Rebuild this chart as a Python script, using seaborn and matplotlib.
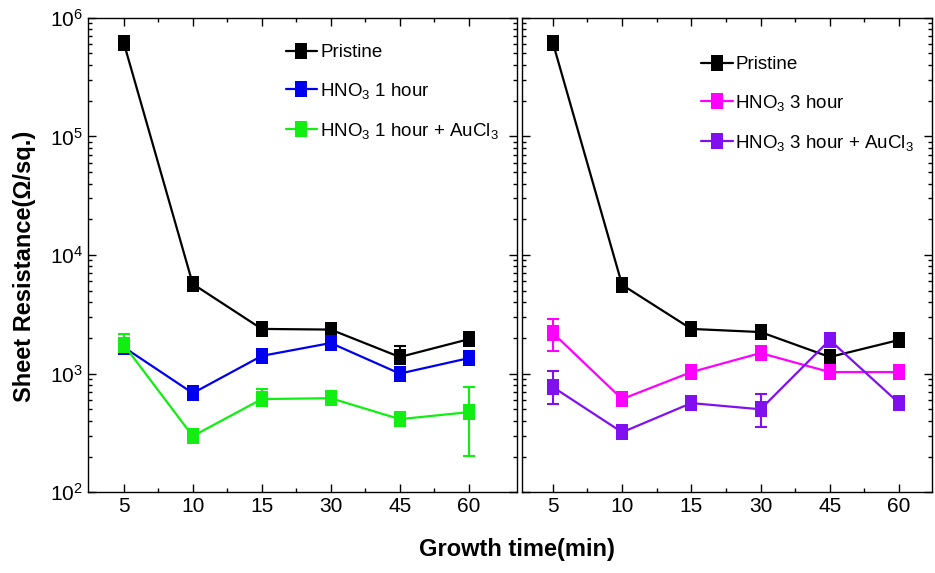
import numpy as np
import pandas as pd
import matplotlib
matplotlib.use('Agg')
import matplotlib.pyplot as plt
import seaborn as sns
from matplotlib.ticker import LogLocator, FixedLocator, NullFormatter

# growth time categories (min)
times = ['5', '10', '15', '30', '45', '60']

# left panel (values in ohm/sq, errors as [lower, upper])
pristine_l = [6.15e5, 5.7e3, 2.38e3, 2.35e3, 1.38e3, 1.95e3]
pristine_l_err = [[0, 0, 0, 0, 150, 0], [0, 0, 0, 0, 320, 0]]
hno3_1h = [1.67e3, 684, 1.41e3, 1.81e3, 1.0e3, 1.35e3]
hno3_1h_err = [[0, 0, 0, 0, 0, 0], [0, 0, 0, 0, 0, 0]]
hno3_1h_au = [1.75e3, 297, 610, 620, 413, 473]
hno3_1h_au_err = [[0, 0, 60, 0, 0, 272], [400, 0, 130, 0, 0, 297]]

# right panel
pristine_r = [6.15e5, 5.6e3, 2.38e3, 2.24e3, 1.38e3, 1.92e3]
pristine_r_err = [[0, 0, 0, 0, 0, 0], [0, 0, 0, 0, 0, 0]]
hno3_3h = [2.2e3, 610, 1.03e3, 1.49e3, 1.03e3, 1.03e3]
hno3_3h_err = [[650, 0, 0, 0, 0, 0], [700, 0, 0, 0, 0, 0]]
hno3_3h_au = [770, 320, 564, 500, 1.92e3, 564]
hno3_3h_au_err = [[217, 0, 0, 146, 0, 0], [280, 0, 0, 171, 0, 0]]

left_series = [
    ('Pristine', pristine_l, pristine_l_err, 'black'),
    ('HNO$_3$ 1 hour', hno3_1h, hno3_1h_err, '#0000ee'),
    ('HNO$_3$ 1 hour + AuCl$_3$', hno3_1h_au, hno3_1h_au_err, '#11ee11'),
]
right_series = [
    ('Pristine', pristine_r, pristine_r_err, 'black'),
    ('HNO$_3$ 3 hour', hno3_3h, hno3_3h_err, '#ff00ff'),
    ('HNO$_3$ 3 hour + AuCl$_3$', hno3_3h_au, hno3_3h_au_err, '#8010f0'),
]

# the original markers are slightly taller than wide
rect_marker = [(-0.35, -0.5), (0.35, -0.5), (0.35, 0.5), (-0.35, 0.5), (-0.35, -0.5)]

sns.set_style('ticks')
plt.rcParams['font.family'] = ['Liberation Sans', 'DejaVu Sans']
plt.rcParams['mathtext.fontset'] = 'custom'
plt.rcParams['mathtext.rm'] = 'Liberation Sans'
plt.rcParams['mathtext.it'] = 'Liberation Sans'
plt.rcParams['mathtext.default'] = 'regular'
for key in ['text.color', 'axes.labelcolor', 'xtick.color', 'ytick.color', 'axes.edgecolor']:
    plt.rcParams[key] = 'black'

fig = plt.figure(figsize=(9.35, 5.73), dpi=100)
ax_l = fig.add_axes([0.094, 0.141, 0.459, 0.828])
ax_r = fig.add_axes([0.558, 0.141, 0.439, 0.828])


def draw_panel(ax, series, xlim, legend_anchor):
    x = np.arange(len(times))
    palette = {}
    rows = []
    for name, vals, errs, color in series:
        palette[name] = color
        for xi, v in zip(x, vals):
            rows.append({'x': xi, 'y': v, 'series': name})
        errs = np.array(errs, dtype=float)
        has_err = errs.sum(axis=0) > 0
        if has_err.any():
            ax.errorbar(x[has_err], np.array(vals)[has_err], yerr=errs[:, has_err],
                        fmt='none', ecolor=color, elinewidth=1.5, capsize=4.5,
                        capthick=1.5, zorder=2)
    df = pd.DataFrame(rows)
    sns.lineplot(data=df, x='x', y='y', hue='series', palette=palette,
                 hue_order=[s[0] for s in series], marker=rect_marker, markersize=12.2,
                 markeredgewidth=0, linewidth=1.6, ax=ax, zorder=3)
    ax.set_yscale('log')
    ax.set_ylim(1e2, 1e6)
    ax.set_xlim(*xlim)
    ax.set_xticks(x)
    ax.set_xticklabels(times)
    ax.xaxis.set_minor_locator(FixedLocator(x[:-1] + 0.5))
    ax.yaxis.set_major_locator(LogLocator(base=10, numticks=10))
    ax.yaxis.set_minor_locator(LogLocator(base=10, subs=np.arange(2, 10), numticks=10))
    ax.yaxis.set_minor_formatter(NullFormatter())
    ax.tick_params(which='both', direction='in', top=True, right=True, labelsize=15)
    ax.tick_params(which='major', length=6, width=1)
    ax.tick_params(which='minor', length=3, width=1)
    for sp in ax.spines.values():
        sp.set_linewidth(1.0)
        sp.set_color('black')
    ax.set_xlabel('')
    ax.set_ylabel('')
    ax.legend(loc='upper left', bbox_to_anchor=legend_anchor, frameon=False,
              fontsize=13.5, handlelength=1.7, handletextpad=0.15,
              labelspacing=1.05, borderaxespad=0)


draw_panel(ax_l, left_series, (-0.52, 5.7), (0.443, 0.96))
draw_panel(ax_r, right_series, (-0.45, 5.48), (0.418, 0.935))
ax_r.set_yticklabels([])

ax_l.set_ylabel('Sheet Resistance(Ω/sq.)', fontsize=17, fontweight='bold')
ax_l.yaxis.set_label_coords(-0.12, 0.477)
fig.text(0.553, 0.03, 'Growth time(min)', fontsize=17, fontweight='bold', ha='center')

fig.savefig('out.png', dpi=100)
